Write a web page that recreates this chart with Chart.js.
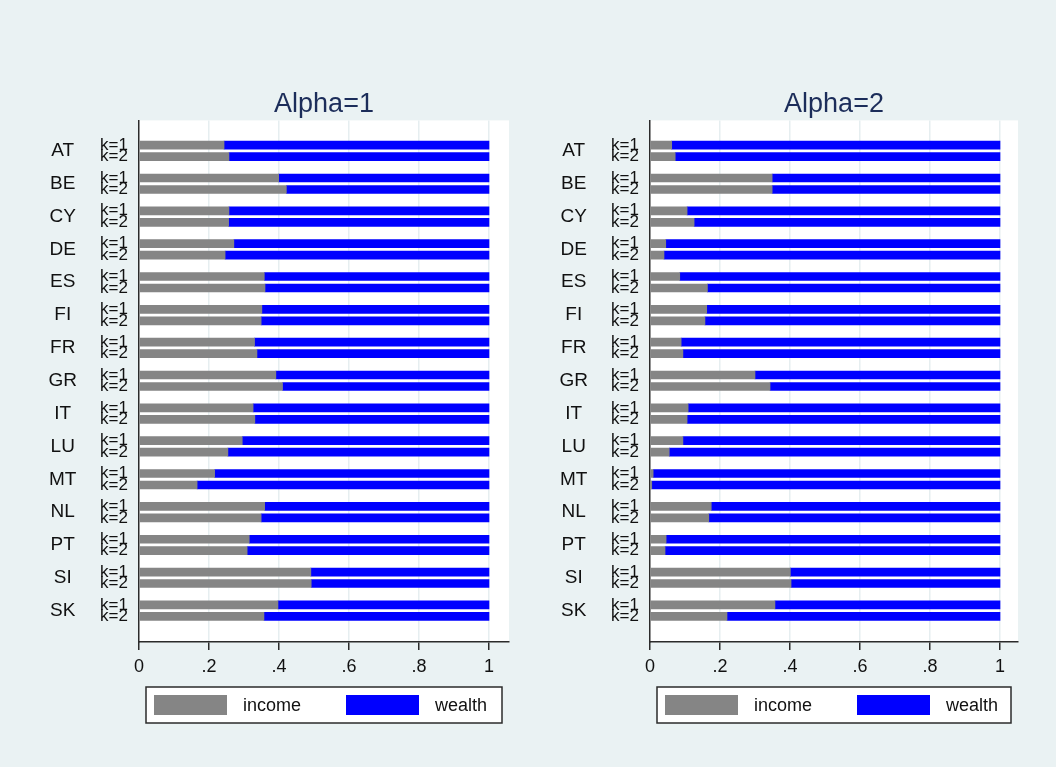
<!DOCTYPE html>
<html>
<head>
<meta charset="utf-8">
<script src="https://cdn.jsdelivr.net/npm/chart.js@4.4.1/dist/chart.umd.min.js"></script>
<style>
  html, body { margin: 0; padding: 0; background: #eaf2f3; }
  body { width: 1056px; height: 767px; position: relative; overflow: hidden; }
  canvas { position: absolute; top: 0; }
</style>
</head>
<body>
<canvas id="alpha1" width="511" height="767" style="left:0"></canvas>
<canvas id="alpha2" width="545" height="767" style="left:511px"></canvas>
<script>
const countries = ['AT', 'BE', 'CY', 'DE', 'ES', 'FI', 'FR', 'GR', 'IT', 'LU', 'MT', 'NL', 'PT', 'SI', 'SK'];
const kLabels = ['k=1', 'k=2'];
const xTicks = [0, 0.2, 0.4, 0.6, 0.8, 1];
const xTickLabels = ['0', '.2', '.4', '.6', '.8', '1'];
const legendLabels = ['income', 'wealth'];

// Alpha=1
const income1k1 = [0.243, 0.399, 0.257, 0.271, 0.358, 0.351, 0.330, 0.391, 0.326, 0.295, 0.216, 0.359, 0.315, 0.491, 0.397];
const income1k2 = [0.257, 0.421, 0.256, 0.246, 0.360, 0.349, 0.337, 0.410, 0.331, 0.254, 0.166, 0.349, 0.309, 0.492, 0.357];
const wealth1k1 = [0.757, 0.601, 0.743, 0.729, 0.642, 0.649, 0.670, 0.609, 0.674, 0.705, 0.784, 0.641, 0.685, 0.509, 0.603];
const wealth1k2 = [0.743, 0.579, 0.744, 0.754, 0.640, 0.651, 0.663, 0.590, 0.669, 0.746, 0.834, 0.651, 0.691, 0.508, 0.643];

// Alpha=2
const income2k1 = [0.062, 0.349, 0.106, 0.045, 0.085, 0.162, 0.089, 0.300, 0.109, 0.094, 0.009, 0.175, 0.046, 0.401, 0.357];
const income2k2 = [0.072, 0.349, 0.126, 0.040, 0.164, 0.157, 0.094, 0.343, 0.106, 0.055, 0.005, 0.168, 0.043, 0.403, 0.220];
const wealth2k1 = [0.938, 0.651, 0.894, 0.955, 0.915, 0.838, 0.911, 0.700, 0.891, 0.906, 0.991, 0.825, 0.954, 0.599, 0.643];
const wealth2k2 = [0.928, 0.651, 0.874, 0.960, 0.836, 0.843, 0.906, 0.657, 0.894, 0.945, 0.995, 0.832, 0.957, 0.597, 0.780];

const FONT = "'Liberation Sans', Arial, sans-serif";
const GRAY = '#858585';
const BLUE = '#0000ff';
const AXIS = '#2b2b2b';
const GRID = '#e6eef0';
const TEXT = '#111111';

// k=2 bar sits a bit below k=1 inside each country group
const K2_OFFSET = 0.35;
const Y_MIN = -0.753;
const Y_MAX = 15.13;

Chart.defaults.font.family = FONT;

const barPositions = countries.flatMap((c, i) => [i, i + K2_OFFSET]);
const countryPositions = countries.map((c, i) => i + K2_OFFSET / 2);

const toBars = (k1, k2) =>
  countries.flatMap((c, i) => [
    { x: k1[i], y: i },
    { x: k2[i], y: i + K2_OFFSET },
  ]);

const plotBackground = {
  id: 'plotBackground',
  beforeDraw(chart) {
    const { ctx, chartArea: a } = chart;
    ctx.save();
    ctx.fillStyle = '#ffffff';
    ctx.fillRect(a.left, a.top, a.right - a.left, a.bottom - a.top);
    ctx.restore();
  },
};

// boxed legend under the axis, like the original
const boxedLegend = {
  id: 'boxedLegend',
  afterDraw(chart) {
    const { ctx, chartArea: a } = chart;
    const left = a.left + 7;
    const right = a.right - 7;
    const top = a.bottom + 45;
    const h = 36;
    const colors = chart.data.datasets.map((d) => d.backgroundColor);
    ctx.save();
    ctx.fillStyle = '#ffffff';
    ctx.fillRect(left, top, right - left, h);
    ctx.strokeStyle = AXIS;
    ctx.lineWidth = 1.5;
    ctx.strokeRect(left, top, right - left, h);
    ctx.font = `18px ${FONT}`;
    ctx.textBaseline = 'middle';
    ctx.textAlign = 'left';
    legendLabels.forEach((label, j) => {
      ctx.fillStyle = colors[j];
      ctx.fillRect(left + 8 + j * 192, top + 8, 73, 20);
      ctx.fillStyle = TEXT;
      ctx.fillText(label, left + 97 + j * 192, top + h / 2 + 1);
    });
    ctx.restore();
  },
};

const makePanel = (canvasId, title, inK1, inK2, weK1, weK2, padRight, xMax) => {
  const ctx = document.getElementById(canvasId).getContext('2d');
  const config = {
    type: 'bar',
    data: {
      datasets: [
        {
          label: legendLabels[0],
          data: toBars(inK1, inK2),
          backgroundColor: GRAY,
          borderWidth: 0,
          barThickness: 8,
          xAxisID: 'x',
          yAxisID: 'yk',
        },
        {
          label: legendLabels[1],
          data: toBars(weK1, weK2),
          backgroundColor: BLUE,
          borderWidth: 0,
          barThickness: 8,
          xAxisID: 'x',
          yAxisID: 'yk',
        },
      ],
    },
    options: {
      indexAxis: 'y',
      responsive: false,
      animation: false,
      devicePixelRatio: 1,
      layout: {
        padding: { top: 88, left: 30, right: padRight, bottom: 85 },
      },
      plugins: {
        legend: { display: false },
        tooltip: { enabled: false },
        title: {
          display: true,
          text: title,
          fullSize: false,
          color: '#1c2d5a',
          font: { size: 27, weight: 'normal' },
          padding: { top: 0, bottom: 0 },
        },
      },
      scales: {
        x: {
          type: 'linear',
          position: 'bottom',
          stacked: true,
          min: 0,
          max: xMax,
          afterBuildTicks: (axis) => {
            axis.ticks = xTicks.map((v) => ({ value: v }));
          },
          afterFit: (axis) => {
            axis.height = 40;
          },
          ticks: {
            callback: (v, i) => xTickLabels[i],
            autoSkip: false,
            maxRotation: 0,
            padding: 6,
            color: TEXT,
            font: { size: 18 },
          },
          grid: {
            color: (c) => (c.tick && c.tick.value === 0 ? 'rgba(0,0,0,0)' : GRID),
            lineWidth: 1.5,
            tickColor: AXIS,
            tickLength: 8,
          },
          border: { color: AXIS, width: 1.5 },
        },
        yk: {
          type: 'linear',
          axis: 'y',
          position: 'left',
          stacked: true,
          reverse: true,
          offset: false,
          min: Y_MIN,
          max: Y_MAX,
          weight: 1,
          afterBuildTicks: (axis) => {
            axis.ticks = barPositions.map((v) => ({ value: v }));
          },
          afterFit: (axis) => {
            axis.width = 62;
          },
          ticks: {
            callback: (v, i) => kLabels[i % 2],
            autoSkip: false,
            padding: 11,
            color: TEXT,
            font: { size: 17 },
          },
          grid: { display: false, drawTicks: false, offset: false },
          border: { color: AXIS, width: 1.5 },
        },
        yc: {
          type: 'linear',
          axis: 'y',
          position: 'left',
          reverse: true,
          offset: false,
          min: Y_MIN,
          max: Y_MAX,
          weight: 2,
          afterBuildTicks: (axis) => {
            axis.ticks = countryPositions.map((v) => ({ value: v }));
          },
          afterFit: (axis) => {
            axis.width = 47;
          },
          ticks: {
            callback: (v, i) => countries[i],
            autoSkip: false,
            crossAlign: 'center',
            padding: 0,
            color: TEXT,
            font: { size: 19 },
          },
          grid: { display: false, drawTicks: false, offset: false },
          border: { display: false },
        },
      },
    },
    plugins: [plotBackground, boxedLegend],
  };
  return new Chart(ctx, config);
};

makePanel('alpha1', 'Alpha=1', income1k1, income1k2, wealth1k1, wealth1k2, 2, 370 / 350);
makePanel('alpha2', 'Alpha=2', income2k1, income2k2, wealth2k1, wealth2k2, 38, 368 / 350);
</script>
</body>
</html>
